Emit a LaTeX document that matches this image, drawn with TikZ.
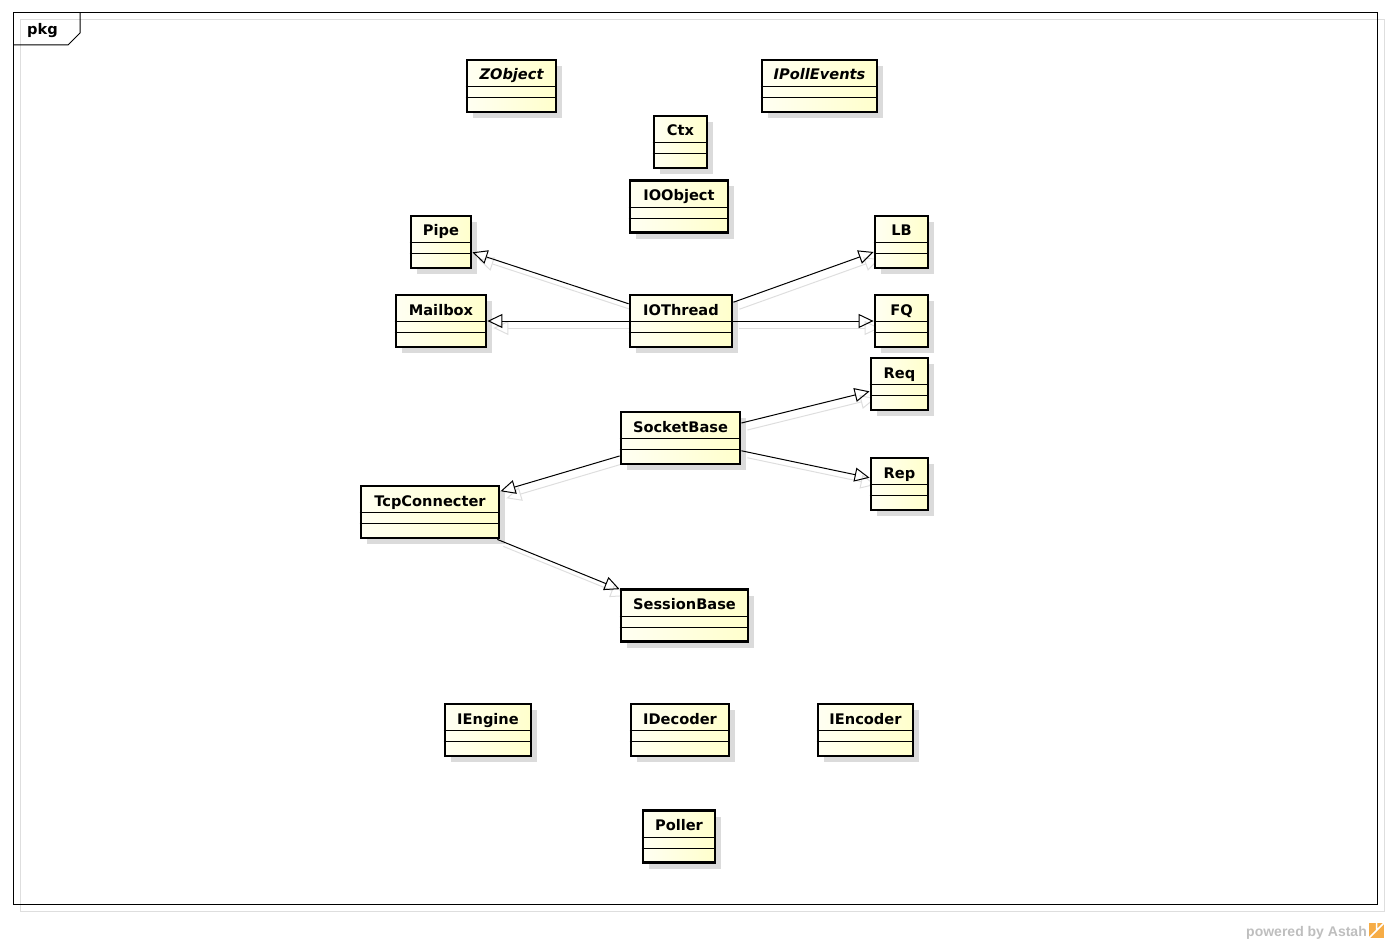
\documentclass[tikz,border=0pt]{standalone}
\usepackage{fontspec}
\setmainfont{DejaVu Sans}
\newfontfamily\astahfont{Liberation Sans}
\usetikzlibrary{arrows.meta,shadows,backgrounds}
\definecolor{umlyellowA}{RGB}{255,255,242}
\definecolor{umlyellowB}{RGB}{255,255,204}
\definecolor{framegray}{RGB}{222,222,222}
\definecolor{astahgray}{RGB}{190,190,190}
\definecolor{astahorange}{RGB}{246,172,70}

\begin{document}
\begin{tikzpicture}[x=1pt,y=-1pt,
    cls/.style={rectangle,draw=black,line width=2.8pt,
                left color=umlyellowA,right color=umlyellowB,
                drop shadow={shadow xshift=6pt,shadow yshift=-6pt,
                             fill=black!14,opacity=1},
                minimum height=52pt,inner xsep=0pt,inner ysep=0pt,
                text height=20pt,text depth=32pt,
                font=\fontsize{14.6}{16}\selectfont\bfseries},
    abscls/.style={cls,font=\fontsize{14.6}{16}\selectfont\bfseries\itshape},
    compline/.style={line width=1.1pt},
    gen/.style={line width=1pt,-{Triangle[open,length=15pt,width=14pt]}},
    genshadow/.style={gen,draw=black!13,
                      transform canvas={shift={(6pt,-7pt)}}}]
  \useasboundingbox (0,0) rectangle (1389,944);

  % package frame
  \draw[framegray,line width=1pt] (20,20) rectangle (1384,911);
  \draw[line width=1pt] (13,13) rectangle (1377,904);
  \draw[line width=1pt] (13,45) -- (68,45) -- (80,33) -- (80,13);
  \node[anchor=base west,inner sep=0pt,
        font=\fontsize{14.6}{16}\selectfont\bfseries] (pkglabel) at (27,35) {pkg};

  % classes
  \node[abscls,minimum width=89pt]  (zobject)      at (511.5,86)  {ZObject};
  \node[abscls,minimum width=115pt] (ipollevents)  at (819.5,86)  {IPollEvents};
  \node[cls,minimum width=53pt]     (ctx)          at (680.5,142) {Ctx};
  \node[cls,minimum width=98pt]     (ioobject)     at (679,206.5) {IOObject};
  \node[cls,minimum width=60pt]     (pipe)         at (441,242)   {Pipe};
  \node[cls,minimum width=53pt]     (lb)           at (901.5,242) {LB};
  \node[cls,minimum width=90pt]     (mailbox)      at (441,321)   {Mailbox};
  \node[cls,minimum width=102pt]    (iothread)     at (681,321)   {IOThread};
  \node[cls,minimum width=53pt]     (fq)           at (901.5,321) {FQ};
  \node[cls,minimum width=57pt]     (req)          at (899.5,384) {Req};
  \node[cls,minimum width=119pt]    (socketbase)   at (680.5,438) {SocketBase};
  \node[cls,minimum width=57pt]     (rep)          at (899.5,484) {Rep};
  \node[cls,minimum width=138pt]    (tcpconnecter) at (430,512)   {TcpConnecter};
  \node[cls,minimum width=127pt]    (sessionbase)  at (684.5,615.5) {SessionBase};
  \node[cls,minimum width=86pt]     (iengine)      at (488,730)   {IEngine};
  \node[cls,minimum width=98pt]     (idecoder)     at (680,730)   {IDecoder};
  \node[cls,minimum width=95pt]     (iencoder)     at (865.5,730) {IEncoder};
  \node[cls,minimum width=72pt]     (poller)       at (679,836.5) {Poller};

  % compartments
  \foreach \n in {zobject,ipollevents,ctx,ioobject,pipe,lb,mailbox,iothread,fq,
                  req,socketbase,rep,tcpconnecter,sessionbase,iengine,idecoder,
                  iencoder,poller} {
    \draw[compline] ([yshift=-28pt]\n.north west) -- ([yshift=-28pt]\n.north east);
    \draw[compline] ([yshift=-39pt]\n.north west) -- ([yshift=-39pt]\n.north east);
  }

  % generalizations
  \foreach \a/\b in {iothread/pipe,iothread/mailbox,iothread/lb,iothread/fq,
                     socketbase/req,socketbase/rep,socketbase/tcpconnecter,
                     tcpconnecter/sessionbase}
    \draw[gen] (\a) -- (\b);
  \begin{scope}[on background layer]
    \foreach \a/\b in {iothread/pipe,iothread/mailbox,iothread/lb,iothread/fq,
                       socketbase/req,socketbase/rep,socketbase/tcpconnecter,
                       tcpconnecter/sessionbase}
      \draw[genshadow] (\a) -- (\b);
  \end{scope}

  % footer
  \node[anchor=base east,inner sep=0pt,text=astahgray,
        font=\astahfont\fontsize{14}{16}\selectfont\bfseries] (powered) at (1367,936)
        {powered by Astah};
  \fill[astahorange] (1369,923) rectangle (1384,938);
  \draw[white,line width=1.5pt] (1369,938) -- (1384,923) (1376.5,923) -- (1376.5,930.5);
\end{tikzpicture}
\end{document}
